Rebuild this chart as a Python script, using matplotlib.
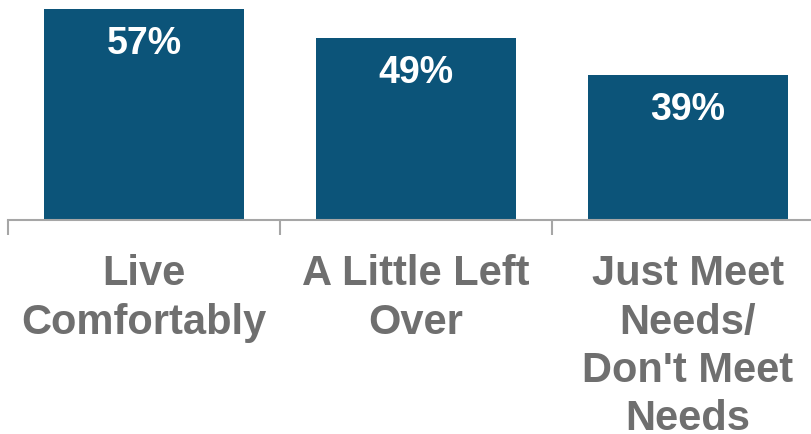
import matplotlib.pyplot as plt

categories = ["Live\nComfortably", "A Little Left\nOver", "Just Meet\nNeeds/\nDon't Meet\nNeeds"]
values = [57, 49, 39]
labels = ["57%", "49%", "39%"]

bar_color = "#0C5479"
text_gray = "#6F6F6F"
axis_gray = "#A6A6A6"

plt.rcParams['font.family'] = ['Liberation Sans', 'DejaVu Sans']

fig = plt.figure(figsize=(8.11, 4.35), dpi=100)
# axes runs past the right edge like the original slide
ax = fig.add_axes([8 / 811, 1 - 221 / 435, 816 / 811, 221 / 435])

x = list(range(len(values)))
bars = ax.bar(x, values, width=0.735, color=bar_color)

for b, lab in zip(bars, labels):
    ax.annotate(lab, (b.get_x() + b.get_width() / 2, b.get_height()),
                xytext=(0, -24.5), textcoords="offset points",
                ha="center", va="center", color="white",
                fontsize=27, fontweight="bold")

ax.set_xlim(-0.5, 2.5)
ax.set_ylim(0, 59.6)

for s in ["top", "right", "left"]:
    ax.spines[s].set_visible(False)
ax.spines["bottom"].set_color(axis_gray)
ax.spines["bottom"].set_linewidth(1.5)
ax.set_yticks([])

ax.set_xticks(x)
ax.set_xticklabels(categories, fontsize=30, fontweight="bold",
                   color=text_gray, va="top", linespacing=1.27)
ax.tick_params(axis="x", which="major", length=0, pad=24)
ax.set_xticks([-0.5, 0.5, 1.5, 2.5], minor=True)
ax.tick_params(axis="x", which="minor", length=11, width=1.5, color=axis_gray)

fig.savefig("out.png", dpi=100)
